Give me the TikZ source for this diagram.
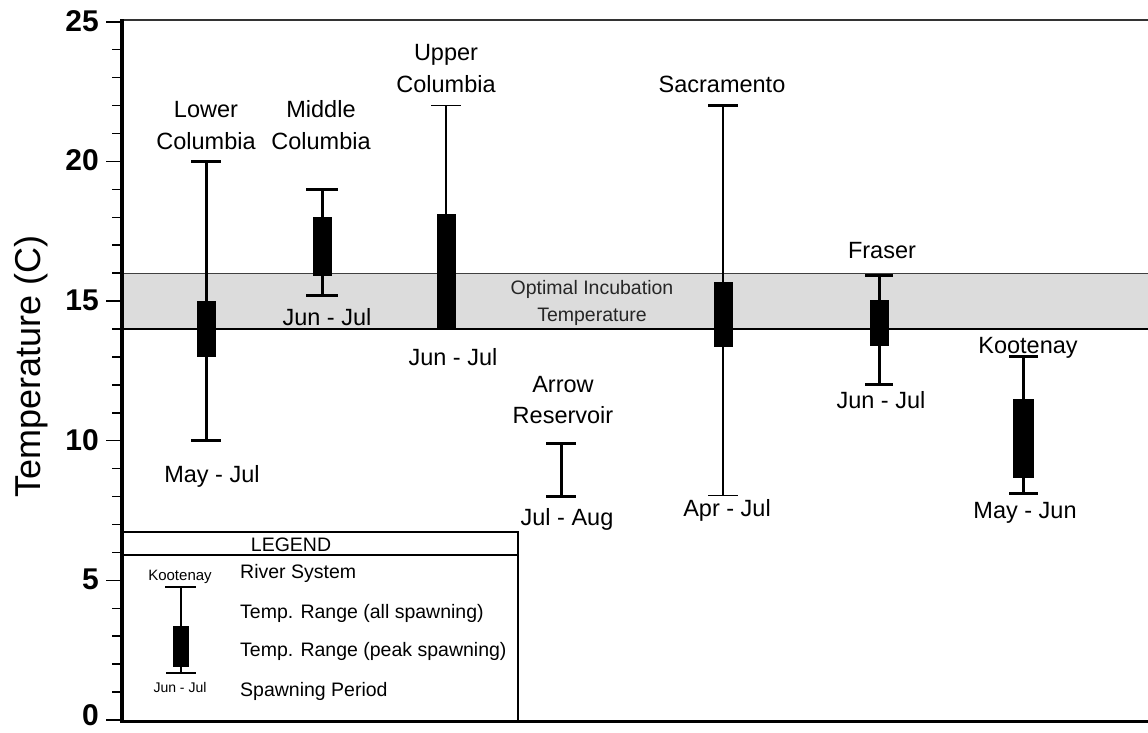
\documentclass[tikz,border=0pt]{standalone}
\usepackage{fontspec}
\setmainfont{Liberation Sans}
\definecolor{bandgray}{RGB}{220,220,220}
\tikzset{
    every node/.style={inner sep=0pt, anchor=base},
    river/.style={font=\fontsize{23.5}{28}\selectfont},
    ticklabel/.style={font=\bfseries\fontsize{30}{36}\selectfont, anchor=base east},
    legendtext/.style={font=\fontsize{19.5}{24}\selectfont, anchor=base west},
    fullrange/.style={line width=3pt},
    thinrange/.style={line width=1.2pt},
    peak/.style={fill=black}
}
\begin{document}
\begin{tikzpicture}[x=1pt, y=27.93pt]
        \useasboundingbox (0,-0.43) rectangle (1148,25.78);

        % Optimal incubation band
        \fill[bandgray] (122,14) rectangle (1148,16);
        \draw[line width=1pt, black!75] (122,16) -- (1148,16);
        \draw[line width=2.5pt] (122,14) -- (1148,14);

        % Lower Columbia
        \draw[fullrange] (191,10) -- (221,10) (206,10) -- (206,20) (191,20) -- (221,20);
        \fill[peak] (196.5,13) rectangle (215.5,15);
        \node[river] (lowcol) at (206,21.59) {Lower};
        \node[river] (lowcol2) at (206,20.41) {Columbia};
        \node[river] (lowcolper) at (212,8.49) {May - Jul};

        % Middle Columbia
        \draw[fullrange] (306,15.2) -- (338,15.2) (322,15.2) -- (322,19) (306,19) -- (338,19);
        \fill[peak] (312.5,15.9) rectangle (331.5,18);
        \node[river] (midcol) at (321,21.59) {Middle};
        \node[river] (midcol2) at (321,20.41) {Columbia};
        \node[river] (midcolper) at (327,14.11) {Jun - Jul};

        % Upper Columbia
        \draw[thinrange] (446,14) -- (446,22) (431,22) -- (461,22);
        \fill[peak] (436.5,14) rectangle (455.5,18.1);
        \node[river] (upcol) at (446,23.63) {Upper};
        \node[river] (upcol2) at (446,22.48) {Columbia};
        \node[river] (upcolper) at (453,12.71) {Jun - Jul};

        % Arrow Reservoir
        \draw[fullrange] (546,8) -- (576,8) (561,8) -- (561,9.9) (546,9.9) -- (576,9.9);
        \node[river] (arrow) at (563,11.74) {Arrow};
        \node[river] (arrow2) at (563,10.63) {Reservoir};
        \node[river] (arrowper) at (567,6.95) {Jul - Aug};

        % Sacramento
        \draw[thinrange] (723,8.05) -- (723,22) (708,8.05) -- (738,8.05);
        \draw[fullrange] (708,22) -- (738,22);
        \fill[peak] (713.5,13.35) rectangle (732.5,15.7);
        \node[river] (sacra) at (722,22.48) {Sacramento};
        \node[river] (sacraper) at (727,7.27) {Apr - Jul};

        % Fraser
        \draw[fullrange] (865,12) -- (893,12) (879,12) -- (879,15.9) (865,15.9) -- (893,15.9);
        \fill[peak] (869.5,13.4) rectangle (888.5,15.05);
        \node[river] (fraser) at (882,16.54) {Fraser};
        \node[river] (fraserper) at (881,11.17) {Jun - Jul};

        % Kootenay
        \draw[fullrange] (1009,8.1) -- (1038,8.1) (1023,8.1) -- (1023,13) (1009,13) -- (1038,13);
        \fill[peak] (1012.5,8.65) rectangle (1033.5,11.5);
        \node[river] (koot) at (1028,13.14) {Kootenay};
        \node[river] (kootper) at (1025,7.23) {May - Jun};

        % Band text
        \node[font=\fontsize{19.5}{24}\selectfont, text=black!85] (optimal) at (592,15.25) {Optimal Incubation};
        \node[font=\fontsize{19.5}{24}\selectfont, text=black!85] (optimal2) at (592,14.26) {Temperature};

        % Legend
        \draw[line width=2.5pt] (122,6.74) -- (518,6.74) -- (518,-0.05);
        \draw[line width=2.5pt] (122,5.91) -- (518,5.91);
        \node[font=\fontsize{19.5}{24}\selectfont] (legend) at (291,6.02) {LEGEND};
        \node[font=\fontsize{15}{18}\selectfont] (keyriver) at (180,5.01) {Kootenay};
        \draw[line width=2.5pt] (165,4.76) -- (196,4.76) (181,4.76) -- (181,1.68) (166,1.68) -- (196,1.68);
        \fill[peak] (173,1.90) rectangle (189,3.37);
        \node[font=\fontsize{14}{17}\selectfont] (keyperiod) at (180,1.0) {Jun - Jul};
        \node[legendtext] (riversys) at (240,5.08) {River System};
        \node[legendtext] (allspawn) at (240,3.65) {Temp. Range (all spawning)};
        \node[legendtext] (peakspawn) at (240,2.26) {Temp. Range (peak spawning)};
        \node[legendtext] (period) at (240,0.86) {Spawning Period};

        % Axes
        \draw[line width=2pt, black!80] (122,25.06) -- (1148,25.06);
        \draw[line width=3pt] (122,-0.05) -- (1148,-0.05);
        \draw[line width=3.5pt] (122,-0.1) -- (122,25.1);
        \foreach \t in {0,...,25}
            \draw[line width=1.5pt] (112,\t) -- (122,\t);
        \foreach \t in {0,5,...,25}
            \draw[line width=1.5pt] (106,\t) -- (122,\t);
        \foreach \t in {5,10,...,25}
            \node[ticklabel] (tick\t) at (99,{\t-0.34}) {\t};
        \node[ticklabel] (tick0) at (99,-0.2) {0};
        \node[rotate=90, font=\fontsize{36}{43}\selectfont] (ylabel) at (40,12.66) {Temperature (C)};
\end{tikzpicture}
\end{document}
